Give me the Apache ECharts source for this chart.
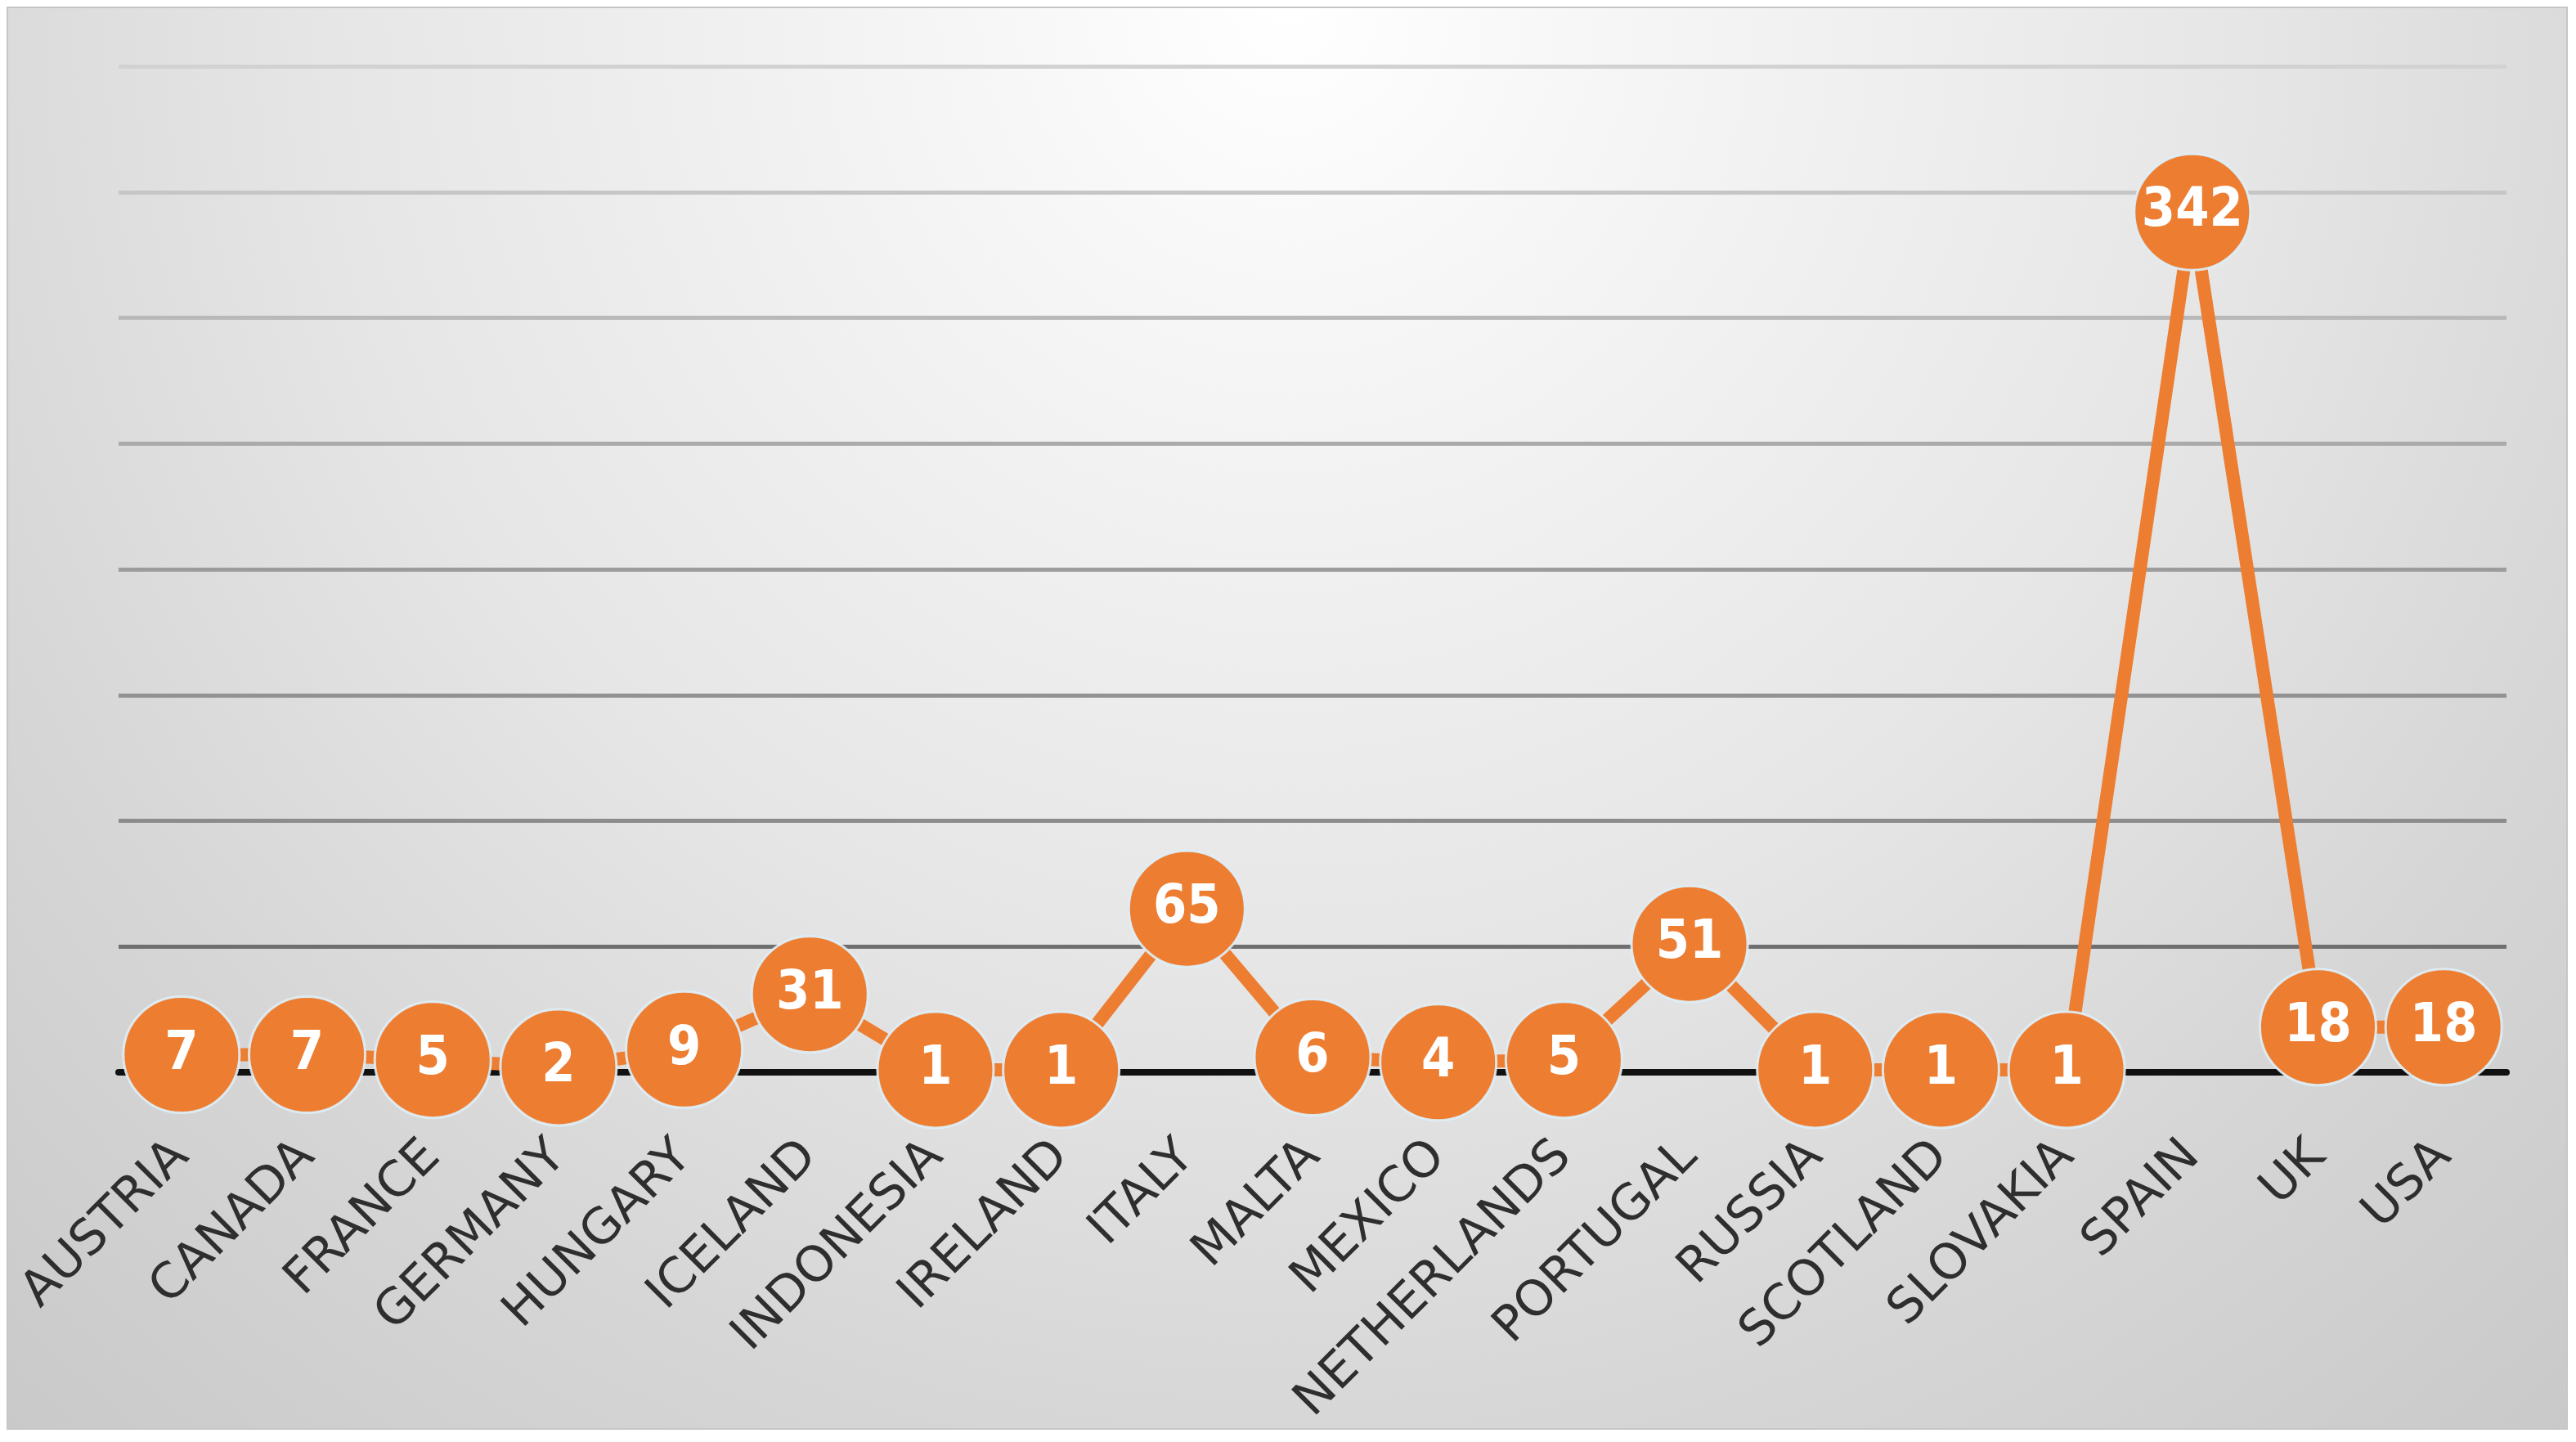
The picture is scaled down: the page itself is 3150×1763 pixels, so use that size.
<!DOCTYPE html>
<html>
<head>
<meta charset="utf-8">
<script src="https://cdn.jsdelivr.net/npm/echarts@6/dist/echarts.min.js"></script>
<style>
  html, body { margin: 0; padding: 0; background: #ffffff; }
  #chart {
    position: absolute;
    left: 8px;
    top: 8px;
    width: 3132px;
    height: 1740px;
    box-sizing: border-box;
    border: 2px solid #c6c6c6;
  }
</style>
</head>
<body>
<div id="chart"></div>
<script>
  // countries along the axis
  var countries = ['AUSTRIA', 'CANADA', 'FRANCE', 'GERMANY', 'HUNGARY', 'ICELAND', 'INDONESIA',
    'IRELAND', 'ITALY', 'MALTA', 'MEXICO', 'NETHERLANDS', 'PORTUGAL', 'RUSSIA', 'SCOTLAND',
    'SLOVAKIA', 'SPAIN', 'UK', 'USA']
  // count per country
  var counts = [7, 7, 5, 2, 9, 31, 1, 1, 65, 6, 4, 5, 51, 1, 1, 1, 342, 18, 18]

  var orange = '#ED7D31'

  var myChart = echarts.init(document.getElementById('chart'))

  var option = {
    backgroundColor: {
      type: 'radial',
      x: 0.5,
      y: 0.0,
      r: 1.35,
      colorStops: [
        { offset: 0, color: '#ffffff' },
        { offset: 0.15, color: '#f7f7f7' },
        { offset: 0.5, color: '#e6e6e6' },
        { offset: 0.75, color: '#d6d6d6' },
        { offset: 1, color: '#c9c9c9' }
      ]
    },
    grid: {
      left: 135,
      right: 73,
      top: 71,
      bottom: 432
    },
    xAxis: {
      type: 'category',
      data: countries,
      boundaryGap: true,
      axisLine: { lineStyle: { color: '#111111', width: 8 } },
      axisTick: { show: false },
      axisLabel: {
        interval: 0,
        rotate: 45,
        margin: 94,
        fontFamily: 'DejaVu Sans',
        fontSize: 60,
        color: '#2e2e2e'
      },
      splitLine: { show: false }
    },
    yAxis: {
      type: 'value',
      min: 0,
      max: 400,
      interval: 50,
      axisLine: { show: false },
      axisTick: { show: false },
      axisLabel: { show: false },
      splitLine: {
        lineStyle: {
          width: 5,
          color: ['#111111', '#6f6f6f', '#8c8c8c', '#929292', '#9c9c9c', '#aaaaaa', '#b9b9b9', '#c6c6c6', '#d2d2d2']
        }
      }
    },
    series: [
      {
        type: 'line',
        data: counts,
        symbol: 'circle',
        symbolSize: 142,
        lineStyle: { color: orange, width: 16 },
        itemStyle: {
          color: orange,
          borderColor: 'rgba(222,240,250,0.9)',
          borderWidth: 3
        },
        label: {
          show: true,
          position: 'inside',
          formatter: '{c}',
          color: '#ffffff',
          fontFamily: 'DejaVu Sans Condensed, DejaVu Sans',
          fontWeight: 'bold',
          fontSize: 66
        },
        emphasis: { disabled: true },
        animation: false
      }
    ]
  }

  myChart.setOption(option)
</script>
</body>
</html>
